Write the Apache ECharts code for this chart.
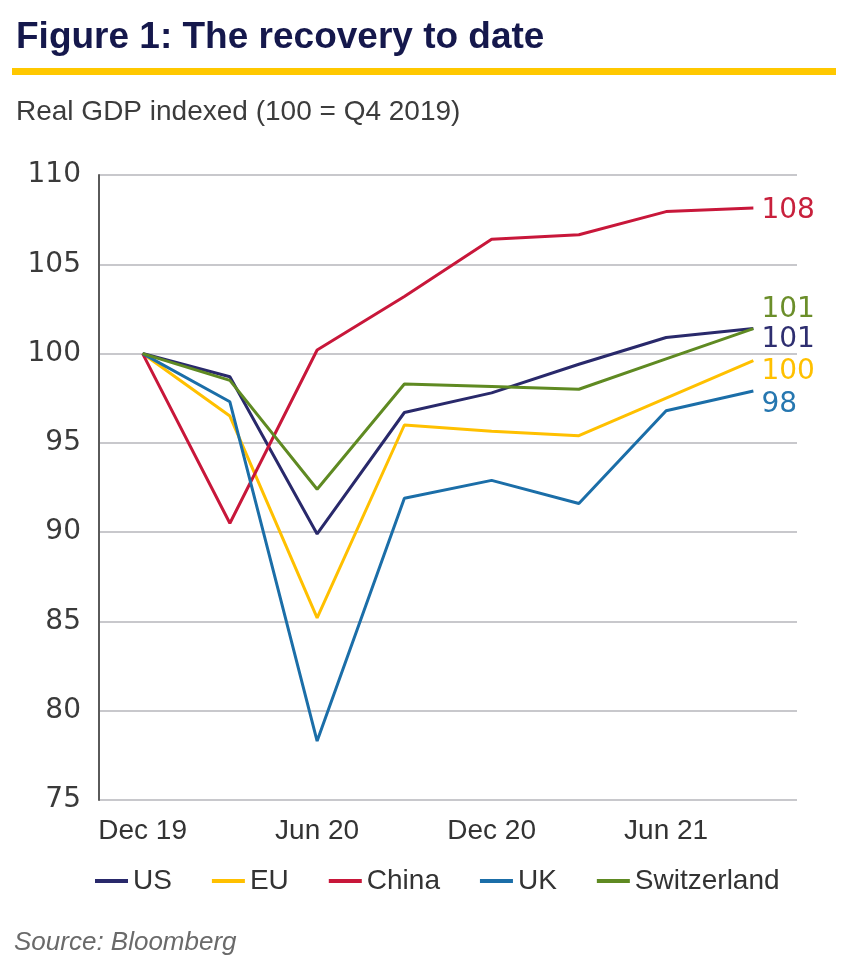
<!DOCTYPE html>
<html>
<head>
<meta charset="utf-8">
<script src="https://cdn.jsdelivr.net/npm/echarts@6/dist/echarts.min.js"></script>
<style>
html,body{margin:0;padding:0;background:#fff;}
#chart{width:864px;height:964px;}
</style>
</head>
<body>
<div id="chart"></div>
<script>
const categories = ['Dec 19','Mar 20','Jun 20','Sep 20','Dec 20','Mar 21','Jun 21','Sep 21'];
const yTicks = [75, 80, 85, 90, 95, 100, 105, 110];
const usValues          = [100, 98.7, 89.9, 96.7, 97.8, 99.4, 100.9, 101.4];
const euValues          = [100, 96.5, 85.2, 96.0, 95.65, 95.4, 97.5, 99.6];
const chinaValues       = [100, 90.5, 100.2, 103.2, 106.4, 106.65, 107.95, 108.15];
const ukValues          = [100, 97.3, 78.3, 91.9, 92.9, 91.6, 96.8, 97.9];
const switzerlandValues = [100, 98.5, 92.4, 98.3, 98.15, 98.0, 99.7, 101.4];

const seriesDefs = [
  {name:'US', data:usValues, color:'#29296b', labelColor:'#2e2e70', offset:[0, 11]},
  {name:'EU', data:euValues, color:'#ffc000', labelColor:'#ffc000', offset:[0, 11]},
  {name:'China', data:chinaValues, color:'#c8173a', labelColor:'#c8203c', offset:[0, 3]},
  {name:'UK', data:ukValues, color:'#1b6ea8', labelColor:'#2677b0', offset:[0, 14]},
  {name:'Switzerland', data:switzerlandValues, color:'#5f8a22', labelColor:'#6b8e2a', offset:[0, -19]}
];

const chart = echarts.init(document.getElementById('chart'), null, {renderer:'canvas'});
const option = {
  backgroundColor:'#ffffff',
  animation:false,
  title:[
    {text:'Figure 1: The recovery to date', left:11, top:14,
     textStyle:{fontFamily:'Liberation Sans', fontWeight:'bold', fontSize:37, color:'#15184c'}},
    {text:'Real GDP indexed (100 = Q4 2019)', left:11, top:93,
     textStyle:{fontFamily:'Liberation Sans', fontWeight:'normal', fontSize:28, color:'#3c3c3c'}},
    {text:'Source: Bloomberg', left:9, top:925,
     textStyle:{fontFamily:'Liberation Sans', fontStyle:'italic', fontWeight:'normal', fontSize:26, color:'#6a6a6a'}}
  ],
  graphic:[
    {type:'rect', left:12, top:68, shape:{width:824, height:7}, style:{fill:'#ffc800'}}
  ],
  legend:{
    left:90, top:862, itemWidth:33, itemHeight:4, itemGap:40, icon:'rect',
    textStyle:{fontFamily:'Liberation Sans', fontSize:28, color:'#333333'},
    data:seriesDefs.map(s=>s.name)
  },
  grid:{left:99, right:67, top:175, bottom:164, containLabel:false},
  xAxis:{
    type:'category', data:categories, boundaryGap:true,
    axisLine:{show:false}, axisTick:{show:false},
    axisLabel:{interval:1, margin:17, fontFamily:'Liberation Sans', fontSize:28, color:'#333333'},
    splitLine:{show:false}
  },
  yAxis:{
    type:'value', min:yTicks[0], max:yTicks[yTicks.length-1], interval:5,
    axisLine:{show:true, lineStyle:{color:'#5a5a5a', width:2}},
    axisTick:{show:false},
    axisLabel:{margin:18, padding:[8,0,0,0], fontFamily:'DejaVu Sans', fontSize:28, color:'#3a3a3a'},
    splitLine:{show:true, lineStyle:{color:'#c8c8cc', width:2}}
  },
  series:seriesDefs.map(s=>({
    name:s.name, type:'line', data:s.data, symbol:'none', smooth:false,
    color:s.color,
    lineStyle:{color:s.color, width:3},
    endLabel:{show:true, distance:8, offset:s.offset, color:s.labelColor,
      fontFamily:'DejaVu Sans', fontSize:28,
      formatter:p=>String(Math.round(p.value))}
  }))
};
chart.setOption(option);
</script>
</body>
</html>
